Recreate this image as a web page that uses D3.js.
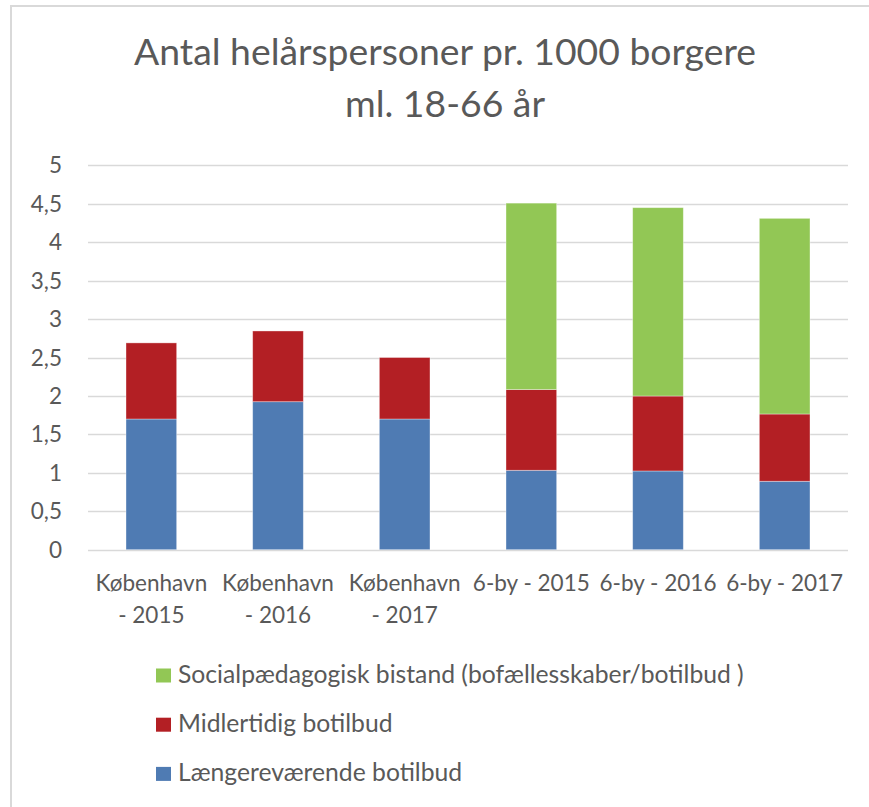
<!DOCTYPE html>
<html>
<head>
<meta charset="utf-8">
<script src="https://cdn.jsdelivr.net/npm/d3@7"></script>
<style>
  html, body { margin: 0; padding: 0; background: #fff; }
  svg { display: block; }
  text { font-family: "Lato", "Open Sans", "Liberation Sans", sans-serif; fill: #595959; }
</style>
</head>
<body>
<svg id="chart" width="869" height="807"></svg>
<script>
// ---- data ----
const categories = [
  ["København", "- 2015"],
  ["København", "- 2016"],
  ["København", "- 2017"],
  ["6-by - 2015"],
  ["6-by - 2016"],
  ["6-by - 2017"]
];
const seriesNames = [
  "Længereværende botilbud",
  "Midlertidig botilbud",
  "Socialpædagogisk bistand (bofællesskaber/botilbud )"
];
const laengerevaerende = [1.70, 1.925, 1.70, 1.033, 1.024, 0.89];
const midlertidig      = [0.99, 0.92, 0.80, 1.05, 0.975, 0.875];
const socialpaed       = [0, 0, 0, 2.425, 2.45, 2.545];
const yTicks = [0, 0.5, 1, 1.5, 2, 2.5, 3, 3.5, 4, 4.5, 5];
const titleLines = ["Antal helårspersoner pr. 1000 borgere", "ml. 18-66 år"];

const colors = ["#4F7BB3", "#B31F24", "#92C755"];

// ---- layout ----
const svg = d3.select("#chart");
const plot = { left: 88, right: 848, top: 165.3, bottom: 549.7 };

// chart area border
svg.append("rect")
  .attr("x", 11).attr("y", 6)
  .attr("width", 900).attr("height", 900)
  .attr("fill", "#fff").attr("stroke", "#D9D9D9").attr("stroke-width", 2);

// font fitting helper
function fitSize(str, target, base) {
  const t = svg.append("text").attr("font-size", base).text(str);
  const w = t.node().getComputedTextLength();
  t.remove();
  return base * target / w;
}
const titleSize = fitSize(titleLines[0], 622, 30);
const axisSize = fitSize("6-by - 2015", 117, 20);
const legendSize = fitSize(seriesNames[2], 566, 20);

const x = d3.scaleBand()
  .domain(categories.map((d, i) => i))
  .range([plot.left, plot.right])
  .paddingInner(0.6).paddingOuter(0.3);
const y = d3.scaleLinear().domain([0, 5]).range([plot.bottom, plot.top]);

// gridlines
svg.append("g")
  .selectAll("line").data(yTicks).join("line")
  .attr("x1", plot.left).attr("x2", plot.right)
  .attr("y1", d => Math.round(y(d)) + 0.5).attr("y2", d => Math.round(y(d)) + 0.5)
  .attr("stroke", "#D9D9D9").attr("stroke-width", 1.3);

// y axis labels
const fmt = d => String(d).replace(".", ",");
svg.append("g")
  .selectAll("text").data(yTicks).join("text")
  .attr("x", 62).attr("y", d => y(d) + axisSize * 0.36)
  .attr("text-anchor", "end").attr("font-size", axisSize)
  .text(fmt);

// stacked bars
const table = categories.map((c, i) => ({
  i, a: laengerevaerende[i], b: midlertidig[i], c: socialpaed[i]
}));
const stack = d3.stack().keys(["a", "b", "c"])(table);
svg.append("g")
  .selectAll("g").data(stack).join("g")
  .attr("fill", (d, k) => colors[k])
  .selectAll("rect").data(d => d.filter(s => s[1] - s[0] > 0)).join("rect")
  .attr("x", d => x(d.data.i))
  .attr("width", x.bandwidth())
  .attr("y", d => y(d[1]))
  .attr("height", d => y(d[0]) - y(d[1]))
  .attr("stroke", "#ffffff").attr("stroke-opacity", 0.45).attr("stroke-width", 0.8);

// x labels
const xl = svg.append("g");
categories.forEach((lines, i) => {
  const t = xl.append("text")
    .attr("text-anchor", "middle").attr("font-size", axisSize)
    .attr("x", x(i) + x.bandwidth() / 2);
  lines.forEach((ln, j) => {
    t.append("tspan").attr("x", x(i) + x.bandwidth() / 2)
      .attr("y", 591 + j * 32).text(ln);
  });
});

// title
svg.append("g").selectAll("text").data(titleLines).join("text")
  .attr("x", 445).attr("y", (d, i) => 65 + i * 52)
  .attr("text-anchor", "middle").attr("font-size", titleSize)
  .text(d => d);

// legend (reverse order, top = green)
const legendOrder = [2, 1, 0];
const lg = svg.append("g");
legendOrder.forEach((k, r) => {
  const cy = 675.5 + r * 49.2;
  lg.append("rect").attr("x", 156).attr("y", cy - 7).attr("width", 15).attr("height", 14)
    .attr("fill", colors[k]);
  lg.append("text").attr("x", 178).attr("y", cy + legendSize * 0.3)
    .attr("font-size", legendSize).text(seriesNames[k]);
});
</script>
</body>
</html>
